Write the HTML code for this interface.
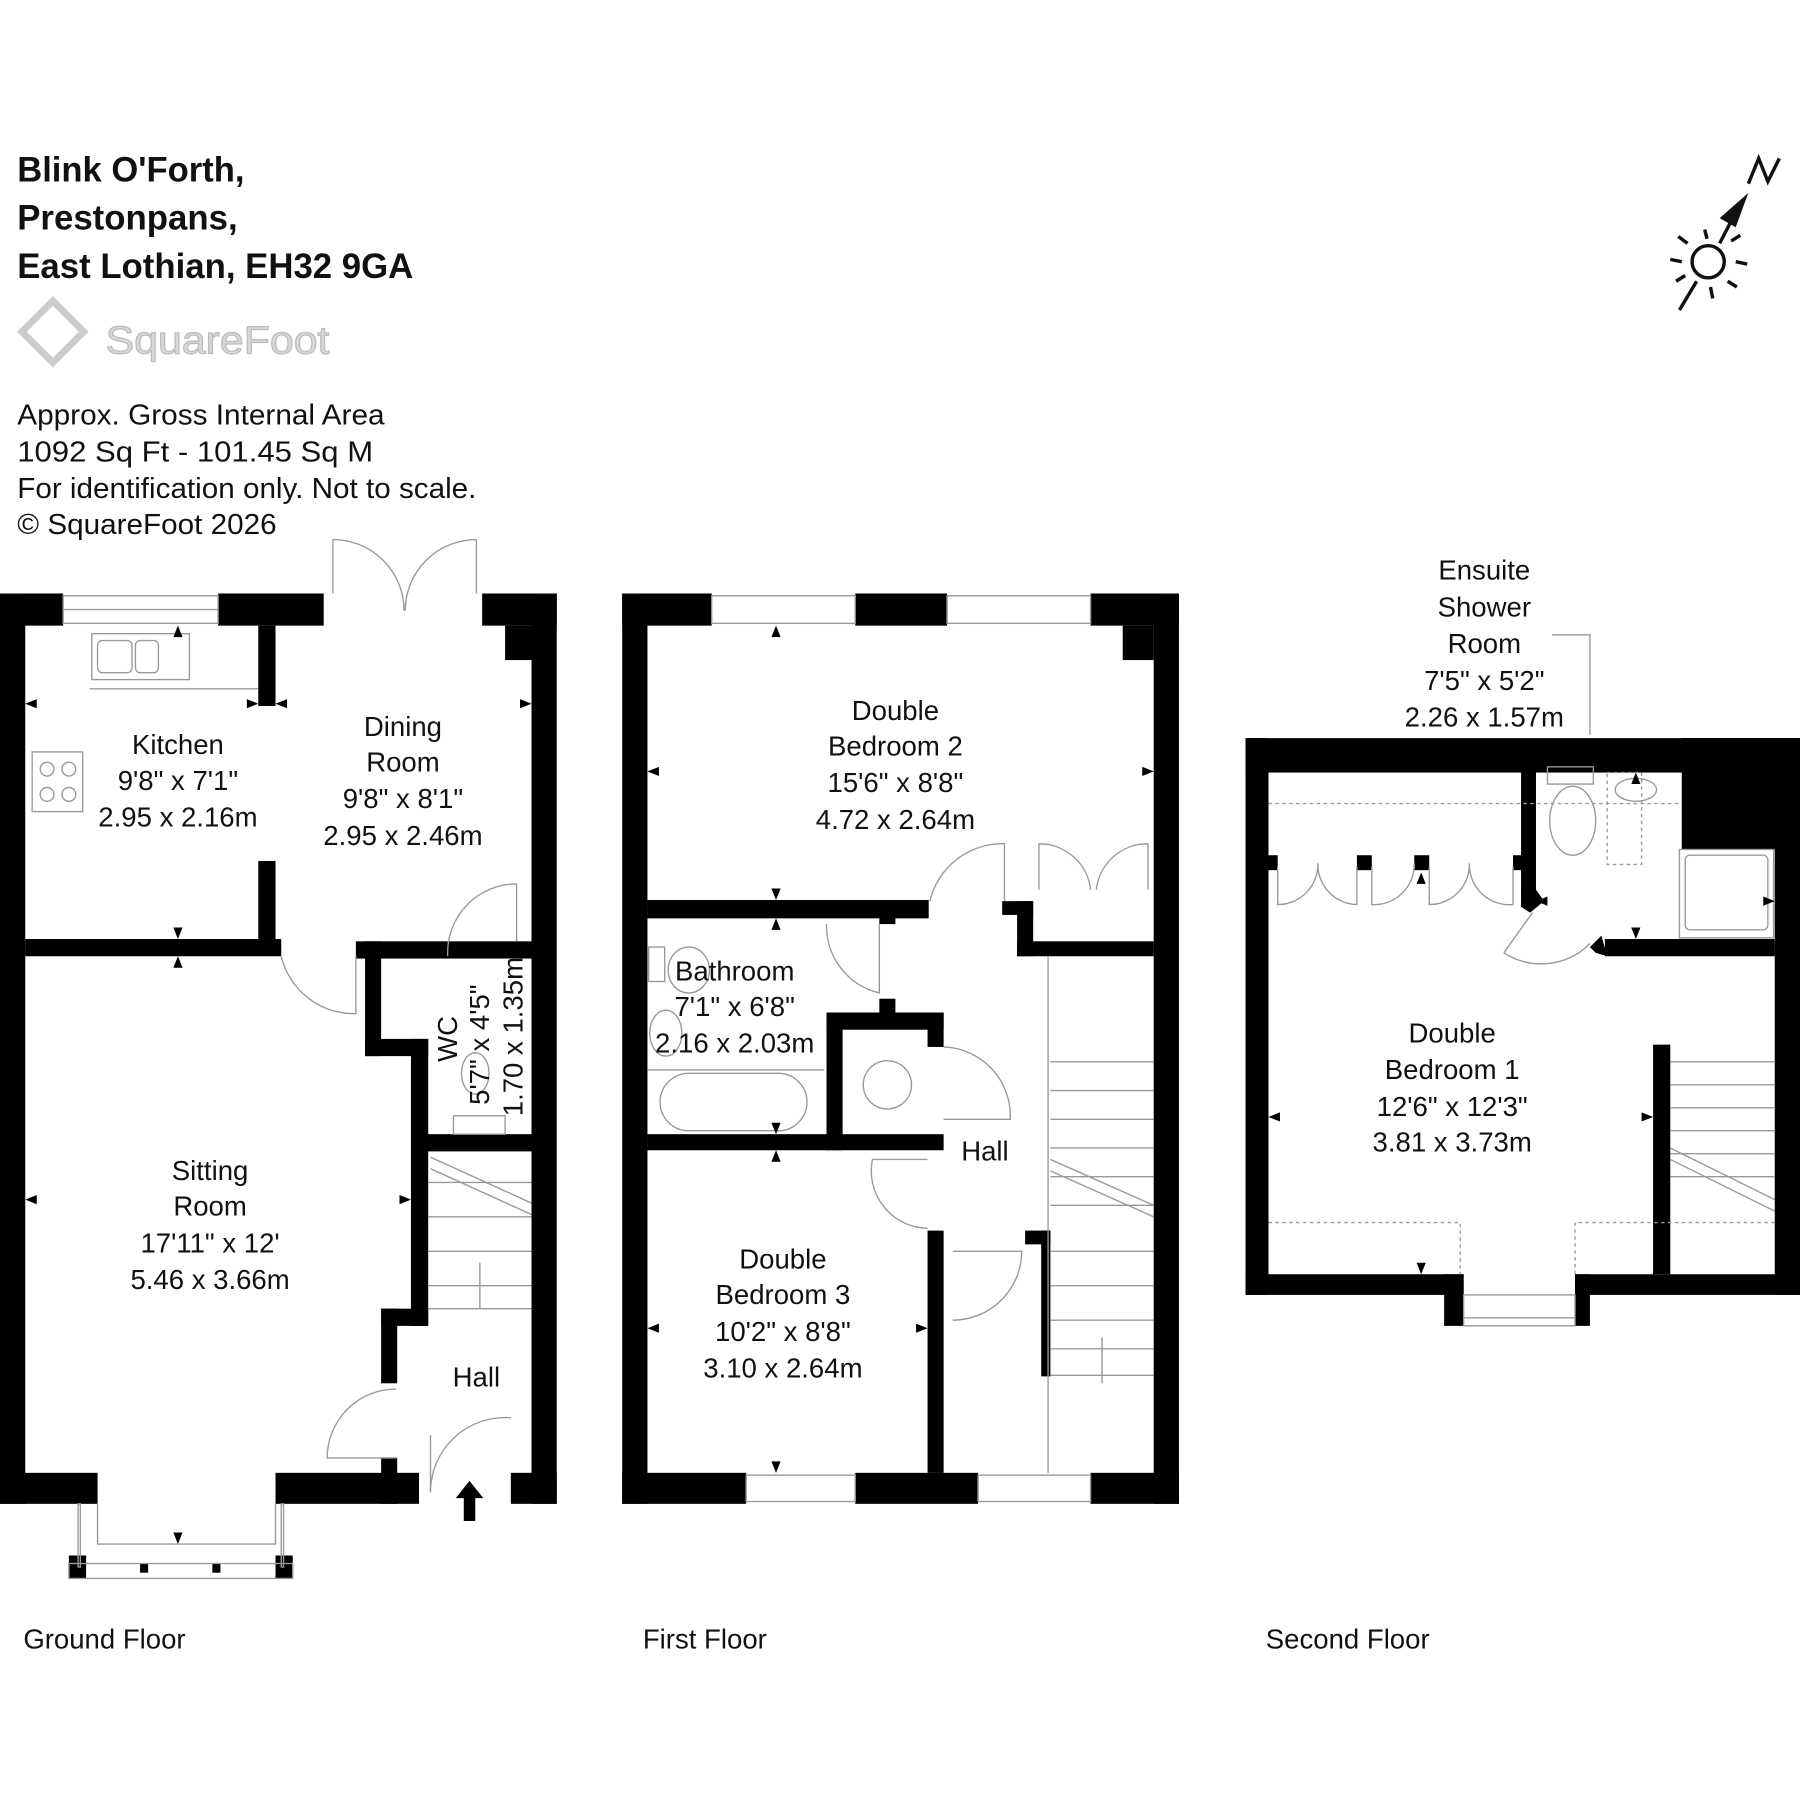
<!DOCTYPE html>
<html><head><meta charset="utf-8"><style>
html,body{margin:0;padding:0;background:#fff}
svg{display:block}
text{font-family:"Liberation Sans",sans-serif;fill:#111}
</style></head><body>
<svg width="1800" height="1800" viewBox="0 0 1568 1568" xmlns="http://www.w3.org/2000/svg">
<!-- header -->
<g font-weight="bold" font-size="31">
<text x="15" y="158" textLength="198" lengthAdjust="spacingAndGlyphs">Blink O'Forth,</text>
<text x="15" y="200" textLength="192" lengthAdjust="spacingAndGlyphs">Prestonpans,</text>
<text x="15" y="242" textLength="345" lengthAdjust="spacingAndGlyphs">East Lothian, EH32 9GA</text>
</g>
<g fill="none" stroke="#ccc" stroke-width="6">
<rect x="27" y="270" width="38" height="38" transform="rotate(45 46 289)"/>
</g>
<text x="92" y="308" font-size="34" style="fill:#d8d8d8" stroke="#bbb" stroke-width="1" textLength="195" lengthAdjust="spacingAndGlyphs">SquareFoot</text>
<g font-size="25">
<text x="15" y="370" textLength="320" lengthAdjust="spacingAndGlyphs">Approx. Gross Internal Area</text>
<text x="15" y="402" textLength="310" lengthAdjust="spacingAndGlyphs">1092 Sq Ft  -  101.45 Sq M</text>
<text x="15" y="434" textLength="400" lengthAdjust="spacingAndGlyphs">For identification only. Not to scale.</text>
<text x="15" y="465" textLength="226" lengthAdjust="spacingAndGlyphs">© SquareFoot 2026</text>
</g>
<!-- compass -->
<g stroke="#111" stroke-width="3" fill="none">
<circle cx="1488" cy="228" r="14"/>
<line x1="1463" y1="270" x2="1478" y2="245"/>
<line x1="1498" y1="212" x2="1512" y2="185"/>
<line x1="1455" y1="226" x2="1465" y2="228"/><line x1="1512" y1="228" x2="1522" y2="230"/>
<line x1="1462" y1="206" x2="1470" y2="212"/><line x1="1505" y1="245" x2="1513" y2="250"/>
<line x1="1485" y1="200" x2="1487" y2="208"/><line x1="1490" y1="250" x2="1492" y2="260"/>
<line x1="1460" y1="245" x2="1468" y2="240"/><line x1="1508" y1="210" x2="1516" y2="205"/>
<polyline points="1523,160 1532,138 1540,158 1550,138"/>
</g>
<polygon points="1523,168 1498,190 1512,198" fill="#111"/>

<!-- GROUND FLOOR walls -->
<g fill="#000">
<rect x="0" y="517" width="22" height="793"/>
<rect x="0" y="517" width="55" height="28"/>
<rect x="190" y="517" width="92" height="28"/>
<rect x="420" y="517" width="65" height="28"/>
<rect x="463" y="517" width="22" height="793"/>
<rect x="440" y="545" width="23" height="30"/>
<rect x="225" y="545" width="15" height="70"/>
<rect x="225" y="750" width="15" height="80"/>
<rect x="22" y="818" width="223" height="15"/>
<rect x="310" y="820" width="153" height="15"/>
<rect x="318" y="820" width="14" height="100"/>
<rect x="318" y="905" width="55" height="15"/>
<rect x="358" y="905" width="15" height="250"/>
<rect x="358" y="988" width="105" height="15"/>
<rect x="332" y="1140" width="41" height="15"/>
<rect x="332" y="1140" width="14" height="65"/>
<rect x="332" y="1270" width="14" height="40"/>
<rect x="0" y="1283" width="85" height="27"/>
<rect x="240" y="1283" width="125" height="27"/>
<rect x="445" y="1283" width="40" height="27"/>
<rect x="60" y="1355" width="15" height="20"/><rect x="240" y="1355" width="15" height="20"/>
<rect x="122" y="1362" width="7" height="8"/><rect x="185" y="1362" width="7" height="8"/>
<polygon points="409,1290 397,1305 404,1305 404,1325 414,1325 414,1305 421,1305"/>
</g>
<g fill="none" stroke="#999" stroke-width="1.2">
<rect x="55" y="519" width="135" height="24"/><line x1="55" y1="531" x2="190" y2="531"/>
<rect x="68" y="1310" width="2" height="55"/><rect x="245" y="1310" width="2" height="55"/>
<rect x="60" y="1362" width="195" height="13"/>
<polyline points="85,1310 85,1345 240,1345 240,1310"/>
<path d="M290 470 L290 517 M290 470 A62 62 0 0 1 352 532 M415 470 L415 517 M415 470 A62 62 0 0 0 353 532"/>
<polyline points="78,600 225,600 M78,600 78,762 225,762 M170,762 170,818"/>
<rect x="80" y="552" width="85" height="40"/>
<rect x="85" y="558" width="30" height="28" rx="4"/><rect x="118" y="558" width="20" height="28" rx="4"/>
<rect x="28" y="655" width="44" height="52"/>
<circle cx="41" cy="670" r="6"/><circle cx="60" cy="670" r="6"/><circle cx="41" cy="692" r="6"/><circle cx="60" cy="692" r="6"/>
<path d="M245 833 A65 65 0 0 0 310 883 L310 833"/>
<path d="M390 833 A60 60 0 0 1 450 770 L450 820"/>
<path d="M445 1235 A65 65 0 0 0 375 1300 M375 1300 L375 1250"/>
<path d="M345 1210 A60 60 0 0 0 285 1270 L345 1270"/>
<line x1="373" y1="1030" x2="463" y2="1030"/><line x1="373" y1="1060" x2="463" y2="1060"/>
<line x1="373" y1="1090" x2="463" y2="1090"/><line x1="373" y1="1120" x2="463" y2="1120"/>
<line x1="373" y1="1140" x2="463" y2="1140"/>
<line x1="375" y1="1008" x2="463" y2="1048"/><line x1="375" y1="1018" x2="463" y2="1058"/>
<line x1="418" y1="1100" x2="418" y2="1140"/>
<ellipse cx="414" cy="935" rx="12" ry="18"/><rect x="395" y="972" width="45" height="16"/>
</g>
<g font-size="24" text-anchor="middle">
<text x="155" y="657">Kitchen</text><text x="155" y="688">9'8" x 7'1"</text><text x="155" y="720">2.95 x 2.16m</text>
<text x="351" y="641">Dining</text><text x="351" y="672">Room</text><text x="351" y="704">9'8" x 8'1"</text><text x="351" y="736">2.95 x 2.46m</text>
<text x="183" y="1028">Sitting</text><text x="183" y="1059">Room</text><text x="183" y="1091">17'11" x 12'</text><text x="183" y="1123">5.46 x 3.66m</text>
<text x="415" y="1208">Hall</text>
<text transform="translate(398,905) rotate(-90)">WC</text>
<text transform="translate(426,910) rotate(-90)">5'7" x 4'5"</text>
<text transform="translate(455,903) rotate(-90)">1.70 x 1.35m</text>
<text x="91" y="1436" text-anchor="middle">Ground Floor</text>
</g>

<!-- FIRST FLOOR -->
<g fill="#000">
<rect x="542" y="517" width="22" height="793"/>
<rect x="542" y="517" width="78" height="28"/>
<rect x="745" y="517" width="80" height="28"/>
<rect x="950" y="517" width="77" height="28"/>
<rect x="1005" y="517" width="22" height="793"/>
<rect x="978" y="545" width="27" height="30"/>
<rect x="542" y="1283" width="108" height="27"/>
<rect x="745" y="1283" width="107" height="27"/>
<rect x="950" y="1283" width="77" height="27"/>
<rect x="564" y="784" width="245" height="16"/>
<rect x="766" y="795" width="14" height="10"/>
<rect x="720" y="882" width="102" height="15"/>
<rect x="720" y="882" width="14" height="120"/>
<rect x="766" y="870" width="14" height="14"/>
<rect x="808" y="882" width="14" height="30"/>
<rect x="564" y="988" width="258" height="14"/>
<rect x="808" y="1072" width="14" height="211"/>
<rect x="886" y="785" width="14" height="48"/>
<rect x="873" y="785" width="27" height="12"/>
<rect x="886" y="820" width="119" height="13"/>
<rect x="907" y="1072" width="8" height="127"/>
<rect x="893" y="1072" width="22" height="12"/>
</g>
<g fill="none" stroke="#999" stroke-width="1.2">
<rect x="620" y="519" width="125" height="24"/><rect x="825" y="519" width="125" height="24"/>
<rect x="650" y="1285" width="95" height="23"/><rect x="852" y="1285" width="98" height="23"/>
<path d="M810 785 A65 65 0 0 1 875 735 L875 785"/>
<path d="M905 775 L905 735 A45 45 0 0 1 950 775 M1000 775 L1000 735 A45 45 0 0 0 955 775"/>
<path d="M720 805 A60 60 0 0 0 766 865 L766 805"/>
<path d="M822 912 A60 60 0 0 1 880 975 L822 975"/>
<path d="M808 1070 A50 50 0 0 1 760 1010 L808 1010"/>
<path d="M830 1150 A60 60 0 0 0 890 1090 L830 1090"/>
<circle cx="773" cy="945" r="21"/>
<rect x="575" y="935" width="128" height="50" rx="25"/>
<line x1="564" y1="932" x2="718" y2="932"/>
<rect x="565" y="825" width="14" height="30"/><ellipse cx="600" cy="845" rx="18" ry="20"/>
<ellipse cx="580" cy="900" rx="14" ry="20"/>
<line x1="913" y1="833" x2="913" y2="1283"/>
<g>
<line x1="915" y1="925" x2="1005" y2="925"/><line x1="915" y1="950" x2="1005" y2="950"/>
<line x1="915" y1="975" x2="1005" y2="975"/><line x1="915" y1="1000" x2="1005" y2="1000"/>
<line x1="915" y1="1025" x2="1005" y2="1025"/><line x1="915" y1="1050" x2="1005" y2="1050"/>
<line x1="915" y1="1090" x2="1005" y2="1090"/><line x1="915" y1="1120" x2="1005" y2="1120"/>
<line x1="915" y1="1150" x2="1005" y2="1150"/><line x1="915" y1="1175" x2="1005" y2="1175"/>
<line x1="915" y1="1198" x2="1005" y2="1198"/>
<line x1="915" y1="1010" x2="1005" y2="1050"/><line x1="915" y1="1020" x2="1005" y2="1060"/>
<line x1="960" y1="1165" x2="960" y2="1205"/>
</g>
</g>
<g font-size="24" text-anchor="middle">
<text x="780" y="627">Double</text><text x="780" y="658">Bedroom 2</text><text x="780" y="690">15'6" x 8'8"</text><text x="780" y="722">4.72 x 2.64m</text>
<text x="640" y="854">Bathroom</text><text x="640" y="885">7'1" x 6'8"</text><text x="640" y="917">2.16 x 2.03m</text>
<text x="858" y="1011">Hall</text>
<text x="682" y="1105">Double</text><text x="682" y="1136">Bedroom 3</text><text x="682" y="1168">10'2" x 8'8"</text><text x="682" y="1200">3.10 x 2.64m</text>
<text x="614" y="1436">First Floor</text>
</g>

<!-- SECOND FLOOR -->
<g fill="#000">
<rect x="1085" y="643" width="483" height="30"/>
<rect x="1085" y="643" width="20" height="485"/>
<rect x="1546" y="643" width="22" height="485"/>
<rect x="1465" y="643" width="103" height="97"/>
<rect x="1085" y="1110" width="190" height="18"/>
<rect x="1372" y="1110" width="196" height="18"/>
<rect x="1258" y="1110" width="17" height="45"/><rect x="1372" y="1110" width="13" height="45"/>
<rect x="1325" y="663" width="13" height="120"/>
<polygon points="1325,775 1338,775 1345,785 1333,795 1325,790"/>
<rect x="1398" y="818" width="148" height="15"/>
<polygon points="1385,825 1395,815 1400,833 1390,830"/>
<rect x="1440" y="910" width="15" height="200"/>
<rect x="1105" y="745" width="8" height="13"/><rect x="1182" y="745" width="13" height="13"/>
<rect x="1232" y="745" width="13" height="13"/><rect x="1318" y="745" width="8" height="13"/>
</g>
<g fill="none" stroke="#999" stroke-width="1.2">
<path d="M1352 553 L1385 553 L1385 640"/>
<path d="M1310 830 A60 60 0 0 0 1385 822 M1310 830 L1335 795"/>
<path d="M1113 755 L1113 788 A35 35 0 0 0 1148 752 A35 35 0 0 0 1182 788 L1182 755 M1195 755 L1195 788 A35 35 0 0 0 1232 752 M1245 755 L1245 788 A35 35 0 0 0 1280 752 A35 35 0 0 0 1318 788 L1318 755"/>
<rect x="1348" y="668" width="40" height="15"/><ellipse cx="1370" cy="715" rx="20" ry="30"/>
<ellipse cx="1425" cy="688" rx="18" ry="10"/>
<rect x="1400" y="673" width="30" height="80" stroke-dasharray="3 3"/>
<rect x="1463" y="740" width="82" height="77"/><rect x="1468" y="745" width="72" height="65" rx="4"/>
<line x1="1105" y1="700" x2="1465" y2="700" stroke-dasharray="3 3"/>
<polyline points="1105,1065 1272,1065 1272,1110" stroke-dasharray="3 3"/>
<polyline points="1546,1065 1372,1065 1372,1110" stroke-dasharray="3 3"/>
<rect x="1275" y="1128" width="97" height="27"/><line x1="1275" y1="1148" x2="1372" y2="1148"/>
<line x1="1455" y1="925" x2="1546" y2="925"/><line x1="1455" y1="945" x2="1546" y2="945"/>
<line x1="1455" y1="965" x2="1546" y2="965"/><line x1="1455" y1="985" x2="1546" y2="985"/>
<line x1="1455" y1="1005" x2="1546" y2="1005"/><line x1="1455" y1="1025" x2="1546" y2="1025"/>
<line x1="1455" y1="1000" x2="1546" y2="1045"/><line x1="1455" y1="1010" x2="1546" y2="1055"/>
</g>
<g font-size="24" text-anchor="middle">
<text x="1293" y="505">Ensuite</text><text x="1293" y="537">Shower</text><text x="1293" y="569">Room</text>
<text x="1293" y="601">7'5" x 5'2"</text><text x="1293" y="633">2.26 x 1.57m</text>
<text x="1265" y="908">Double</text><text x="1265" y="940">Bedroom 1</text><text x="1265" y="972">12'6" x 12'3"</text><text x="1265" y="1003">3.81 x 3.73m</text>
<text x="1174" y="1436">Second Floor</text>
</g>
<!-- small dimension arrows -->
<g fill="#000">
<polygon points="155,545 151,555 159,555"/><polygon points="155,818 151,808 159,808"/><polygon points="155,833 151,843 159,843"/>
<polygon points="22,613 32,609 32,617"/><polygon points="225,613 215,609 215,617"/>
<polygon points="240,613 250,609 250,617"/><polygon points="463,613 453,609 453,617"/>
<polygon points="22,1045 32,1041 32,1049"/><polygon points="358,1045 348,1041 348,1049"/>
<polygon points="155,1345 151,1335 159,1335"/>
<polygon points="676,545 672,555 680,555"/><polygon points="676,784 672,774 680,774"/><polygon points="676,800 672,810 680,810"/>
<polygon points="564,672 574,668 574,676"/><polygon points="1005,672 995,668 995,676"/>
<polygon points="676,988 672,978 680,978"/><polygon points="676,1002 672,1012 680,1012"/>
<polygon points="564,1157 574,1153 574,1161"/><polygon points="808,1157 798,1153 798,1161"/>
<polygon points="676,1283 672,1273 680,1273"/>
<polygon points="1105,973 1115,969 1115,977"/><polygon points="1440,973 1430,969 1430,977"/>
<polygon points="1238,1110 1234,1100 1242,1100"/><polygon points="1238,760 1234,770 1242,770"/>
<polygon points="1425,673 1421,683 1429,683"/><polygon points="1425,818 1421,808 1429,808"/>
<polygon points="1546,785 1536,781 1536,789"/><polygon points="1338,785 1348,781 1348,789"/>
</g>
</svg>
</body></html>
